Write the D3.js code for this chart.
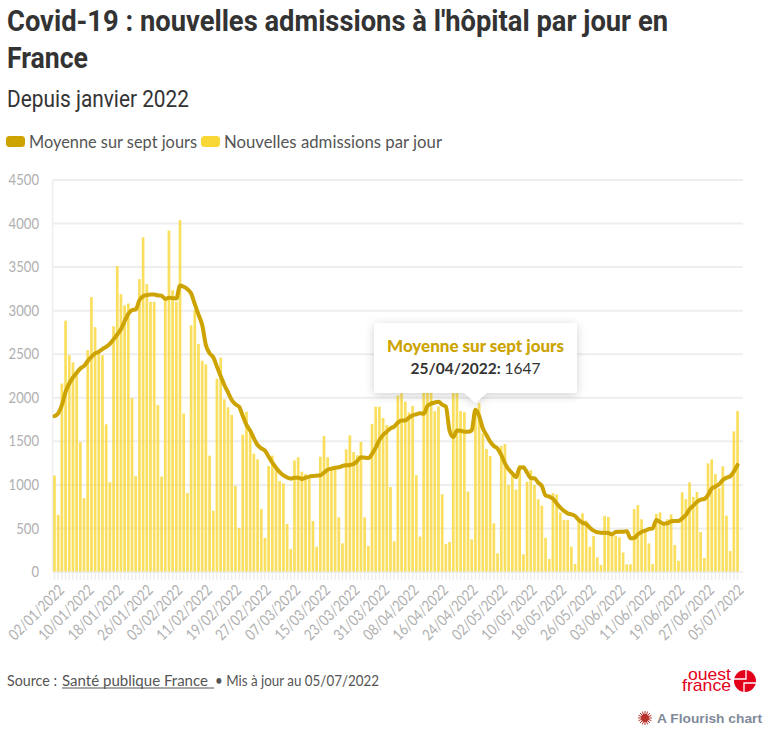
<!DOCTYPE html>
<html>
<head>
<meta charset="utf-8">
<script src="https://cdn.jsdelivr.net/npm/d3@7"></script>
<style>
  html, body { margin: 0; padding: 0; background: #fff; }
  svg { display: block; }
  text { font-family: Lato, sans-serif; }
</style>
</head>
<body>
<svg id="chart" width="769" height="731"></svg>
<script>
// values, one row per week, first bar is 01/01/2022
const admissions = [
  1102,650,2158,2880,2483,2400,2304,
  1485,842,2541,3150,2805,2500,2483,
  1690,1025,2816,3505,3184,3054,3077,
  1990,1095,3356,3838,3298,3096,3096,
  1910,1090,3120,3915,3230,3096,4034,
  1814,900,2828,3000,2610,2420,2378,
  1330,698,2214,2455,1977,1885,1797,
  982,500,1571,1835,1620,1353,1288,
  718,385,1211,1330,1185,1039,1012,
  545,258,1276,1311,1146,1119,1062,
  580,285,1318,1556,1311,1173,1173,
  622,323,1402,1563,1372,1334,1487,
  622,293,1693,1892,1892,1762,1682,
  970,346,2020,2045,1950,1825,1900,
  1106,402,2200,2300,2080,1840,1895,
  886,318,340,2200,2250,1843,1830,
  917,369,1855,1931,1586,1406,1326,
  553,208,1440,1462,993,1100,941,
  1223,197,1030,1165,993,830,756,
  388,143,900,886,677,591,591,
  285,86,591,668,585,285,408,
  163,75,637,626,430,410,392,
  218,82,82,716,763,599,445,
  323,86,660,679,553,599,656,
  304,124,909,832,1024,855,913,
  453,155,1242,1288,1119,955,1207,
  641,235,1609,1843
];

const average = [
  1783,1814,1910,2063,2158,2227,2281,
  2331,2361,2415,2465,2503,2522,2553,
  2579,2614,2667,2721,2782,2874,2958,
  3000,3008,3115,3161,3173,3180,3180,
  3169,3165,3130,3142,3138,3134,3284,
  3268,3241,3192,3070,2948,2830,2600,
  2505,2459,2352,2245,2141,2057,1969,
  1919,1892,1785,1682,1617,1529,1452,
  1414,1387,1318,1249,1192,1142,1104,
  1081,1066,1077,1077,1062,1077,1089,
  1096,1100,1104,1135,1169,1181,1192,
  1196,1211,1219,1223,1234,1269,1311,
  1307,1303,1349,1422,1510,1567,1605,
  1644,1663,1709,1732,1732,1767,1793,
  1804,1816,1810,1900,1927,1940,1950,
  1915,1892,1615,1542,1618,1617,1603,
  1603,1620,1858,1787,1644,1567,1491,
  1441,1410,1338,1242,1173,1127,1081,
  1192,1196,1135,1073,1070,1020,982,
  872,860,835,783,733,695,668,
  656,637,591,561,545,503,469,
  450,446,446,442,427,454,457,
  457,461,381,385,427,454,469,
  488,496,591,568,549,553,576,
  580,580,610,649,714,756,798,
  825,832,878,951,974,1001,1051,
  1077,1093,1146,1223
];

const tickLabels = [
  "02/01/2022","10/01/2022","18/01/2022","26/01/2022","03/02/2022","11/02/2022",
  "19/02/2022","27/02/2022","07/03/2022","15/03/2022","23/03/2022","31/03/2022",
  "08/04/2022","16/04/2022","24/04/2022","02/05/2022","10/05/2022","18/05/2022",
  "26/05/2022","03/06/2022","11/06/2022","19/06/2022","27/06/2022","05/07/2022"
];
const yTicks = [0,500,1000,1500,2000,2500,3000,3500,4000,4500];
const legendItems = ["Moyenne sur sept jours","Nouvelles admissions par jour"];
const tooltipDate = "25/04/2022";
const tooltipValue = 1647;

const lineColor = "#cca300", barColor = "#f9d737", gridColor = "#eeeeee";
const fmt = d3.timeFormat("%d/%m/%Y");
const days = d3.timeDay.range(new Date(2022,0,1), new Date(2022,6,6)).map(fmt);

const svg = d3.select("#chart");

const x = d3.scaleBand().domain(days).range([52.65, 739.4]).paddingInner(0.27).paddingOuter(0.135);
const y = d3.scaleLinear().domain([0,4500]).range([571.5,179.5]);
const cx = d => x(d) + x.bandwidth()/2;

// grid and axes
const grid = svg.append("g").attr("transform","translate(53,0)")
  .call(d3.axisRight(y).tickValues(yTicks).tickSize(690).tickFormat(""));
grid.select(".domain").remove();
grid.selectAll("line").attr("stroke",gridColor).attr("stroke-width",2);

svg.append("line").attr("x1",52.6).attr("x2",52.6).attr("y1",y(4500)).attr("y2",y(0))
  .attr("stroke",gridColor).attr("stroke-width",1.5);

const yAxis = svg.append("g").attr("transform","translate(39,0)")
  .call(d3.axisLeft(y).tickValues(yTicks).tickSize(0).tickPadding(0).tickFormat(d3.format("d")));
yAxis.select(".domain").remove();
yAxis.selectAll("text").attr("fill","#b0b0b0").style("font-size","16px")
  .attr("textLength",d => String(d).length*7.6).attr("lengthAdjust","spacingAndGlyphs");

const xAxis = svg.append("g").attr("transform","translate(0,572)")
  .call(d3.axisBottom(x).tickValues(days).tickSize(8).tickFormat(""));
xAxis.select(".domain").remove();
xAxis.selectAll("line").attr("stroke",gridColor).attr("stroke-width",1.5);

const xLabels = svg.append("g").attr("transform","translate(0,572)")
  .call(d3.axisBottom(x).tickValues(tickLabels).tickSize(0).tickFormat(d => d));
xLabels.select(".domain").remove();
xLabels.selectAll("text")
  .attr("fill","#b0b0b0").style("font-size","15.5px")
  .attr("text-anchor","end").attr("textLength",71).attr("lengthAdjust","spacingAndGlyphs").attr("dy",0)
  .attr("transform","translate(5,17) rotate(-45)");

// bars
svg.append("g").selectAll("rect").data(days).join("rect")
  .attr("x",d => x(d)).attr("width",x.bandwidth())
  .attr("y",(d,i) => y(admissions[i])).attr("height",(d,i) => y(0)-y(admissions[i]))
  .attr("fill",barColor).attr("fill-opacity",0.8);

// seven day average
const line = d3.line().curve(d3.curveMonotoneX).x(d => cx(d)).y((d,i) => y(average[i]));
svg.append("path").datum(days)
  .attr("fill","none").attr("stroke",lineColor).attr("stroke-width",4)
  .attr("stroke-linejoin","round").attr("stroke-linecap","round")
  .attr("d",line);

// title block
const title = svg.append("g").attr("fill","#333333");
title.append("text").attr("x",7).attr("y",31).text("Covid-19 : nouvelles admissions à l'hôpital par jour en")
  .style("font-family","Roboto").style("font-weight",700).style("font-size","30px")
  .attr("textLength",661).attr("lengthAdjust","spacingAndGlyphs");
title.append("text").attr("x",7).attr("y",68).text("France")
  .style("font-family","Roboto").style("font-weight",700).style("font-size","30px")
  .attr("textLength",81).attr("lengthAdjust","spacingAndGlyphs");
title.append("text").attr("x",7).attr("y",107).text("Depuis janvier 2022")
  .style("font-family","Roboto").style("font-size","23px")
  .attr("textLength",182).attr("lengthAdjust","spacingAndGlyphs");

// legend
const legendX = [6,201], legendTextX = [29,224], legendLen = [168,218], legendCol = [lineColor,barColor];
const legend = svg.append("g").selectAll("g").data(legendItems).join("g");
legend.append("rect").attr("x",(d,i) => legendX[i]).attr("y",136).attr("width",19).attr("height",11)
  .attr("rx",3.5).attr("fill",(d,i) => legendCol[i]);
legend.append("text").attr("x",(d,i) => legendTextX[i]).attr("y",148).text(d => d)
  .attr("fill","#555555").style("font-size","16.5px")
  .attr("textLength",(d,i) => legendLen[i]).attr("lengthAdjust","spacingAndGlyphs");

// footer
const footY = 686;
svg.append("text").attr("x",7).attr("y",footY).text("Source :").attr("fill","#555555").style("font-size","14.5px")
  .attr("textLength",50).attr("lengthAdjust","spacingAndGlyphs");
svg.append("text").attr("x",62).attr("y",footY).text("Santé publique France").attr("fill","#555555").style("font-size","14.5px")
  .attr("textLength",146).attr("lengthAdjust","spacingAndGlyphs");
svg.append("line").attr("x1",62).attr("x2",214).attr("y1",footY+2).attr("y2",footY+2).attr("stroke","#555555");
svg.append("text").attr("x",215).attr("y",footY).text("• Mis à jour au 05/07/2022").attr("fill","#555555").style("font-size","14.5px")
  .attr("textLength",164).attr("lengthAdjust","spacingAndGlyphs");

// logo
const logo = svg.append("g").attr("fill","#e2001a");
logo.append("text").attr("x",731).attr("y",680).attr("text-anchor","end").text("ouest")
  .style("font-family","Liberation Sans").style("font-size","17px").attr("textLength",43).attr("lengthAdjust","spacingAndGlyphs");
logo.append("text").attr("x",731).attr("y",691).attr("text-anchor","end").text("france")
  .style("font-family","Liberation Sans").style("font-size","17px").attr("textLength",49).attr("lengthAdjust","spacingAndGlyphs");
logo.append("circle").attr("cx",745).attr("cy",681).attr("r",11);
logo.append("path").attr("d","M734 679H746V670 M756 683H744V692").attr("fill","none").attr("stroke","#fff").attr("stroke-width",1.3);

// flourish credit
const star = svg.append("g").attr("transform","translate(645,718)").attr("stroke","#b5332c").attr("stroke-width",1);
star.selectAll("line").data(d3.range(16)).join("line")
  .attr("x2",d => 7*Math.cos(d*Math.PI/8)).attr("y2",d => 7*Math.sin(d*Math.PI/8));
svg.append("circle").attr("cx",645).attr("cy",718).attr("r",4).attr("fill","#b5332c");
svg.append("text").attr("x",657).attr("y",723).text("A Flourish chart")
  .attr("fill","#7f8a99").style("font-family","Liberation Sans").style("font-weight",700).style("font-size","13px")
  .attr("textLength",105).attr("lengthAdjust","spacingAndGlyphs");

// tooltip on 25/04
const tipX = cx(tooltipDate);
const defs = svg.append("defs");
const shadow = defs.append("filter").attr("id","tipShadow").attr("x","-20%").attr("y","-30%").attr("width","140%").attr("height","170%");
shadow.append("feDropShadow").attr("dx",0).attr("dy",2).attr("stdDeviation",5).attr("flood-color","#000").attr("flood-opacity",0.18);
const tip = svg.append("g");
tip.append("path")
  .attr("d",`M376 323H575a2 2 0 0 1 2 2V391a2 2 0 0 1 -2 2H${tipX+11}L${tipX} 403L${tipX-11} 393H376a2 2 0 0 1 -2 -2V325a2 2 0 0 1 2 -2Z`)
  .attr("fill","#fff").attr("filter","url(#tipShadow)");
tip.append("text").attr("x",475.5).attr("y",352).attr("text-anchor","middle").text(legendItems[0])
  .attr("fill",lineColor).style("font-weight",900).style("font-size","16px")
  .attr("textLength",177).attr("lengthAdjust","spacingAndGlyphs");
const tipLine = tip.append("text").attr("x",475.5).attr("y",374).attr("text-anchor","middle")
  .attr("fill","#333333").style("font-size","16px").attr("textLength",130).attr("lengthAdjust","spacingAndGlyphs");
tipLine.append("tspan").text(tooltipDate+": ").style("font-weight",700);
tipLine.append("tspan").text(tooltipValue);
</script>
</body>
</html>
